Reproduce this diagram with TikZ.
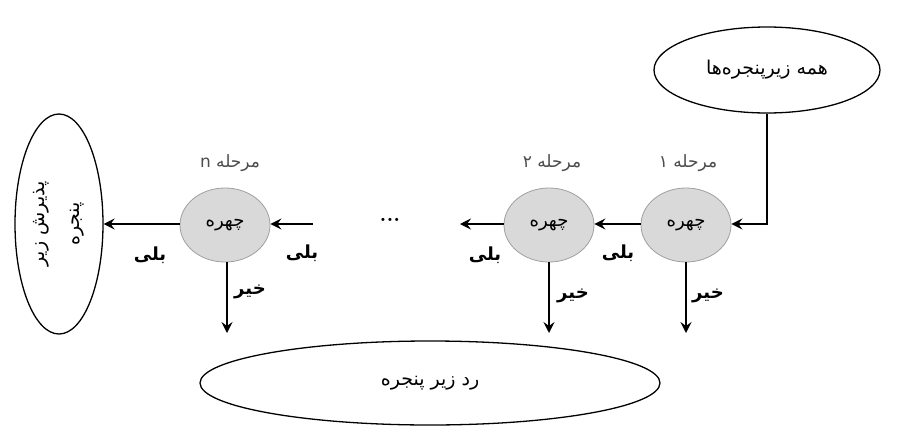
\documentclass[tikz,border=0pt]{standalone}
\usepackage{fontspec}
\usetikzlibrary{shapes.geometric,arrows.meta}
\newfontfamily\arabicfont[Script=Arabic]{DejaVu Sans}
\TeXXeTstate=1
\tikzset{
  bigell/.style={ellipse, draw=black, line width=1.3pt, inner sep=0pt, font=\arabicfont\fontsize{19}{22}\selectfont},
  face/.style={ellipse, draw=gray!75, line width=0.8pt, fill=gray!30, minimum width=90pt, minimum height=74pt, inner sep=0pt, font=\arabicfont\fontsize{18}{20}\selectfont},
  arr/.style={-{Stealth[length=11pt,width=11pt,inset=4pt]}, line width=1.5pt},
  stage/.style={font=\arabicfont\fontsize{17}{20}\selectfont, text=black!70},
  yn/.style={font=\arabicfont\bfseries\fontsize{18}{20}\selectfont},
}
\begin{document}
\begin{tikzpicture}[x=1pt,y=-1pt]
\useasboundingbox (0,0) rectangle (903,426);
% big ellipses
\node[bigell, minimum width=226pt, minimum height=86pt] (all) at (767,70) {\beginR همه زیرپنجره‌ها\endR};
\node[bigell, minimum width=460pt, minimum height=84pt] (rej) at (430,383) {\beginR رد زیر پنجره\endR};
\node[bigell, rotate=90, minimum width=220pt, minimum height=88pt, align=center, font=\arabicfont\fontsize{19}{35}\selectfont] (acc) at (59,224) {\beginR پذیرش زیر\endR\\\beginR پنجره\endR};
% face stages
\node[face] (c1) at (686,225) {\beginR چهره\endR};
\node[face] (c2) at (549,225) {\beginR چهره\endR};
\node[face] (cn) at (225,225) {\beginR چهره\endR};
\node[stage] (s1) at (688,163) {\beginR مرحله ۱\endR};
\node[stage] (s2) at (552,163) {\beginR مرحله ۲\endR};
\node[stage] (sn) at (230,163) {\beginR مرحله \beginL n\endL\endR};
\node[font=\bfseries\fontsize{22}{24}\selectfont] (dots) at (390,220) {...};
% free ends
\coordinate (e1) at (686,333);
\coordinate (e2) at (549,333);
\coordinate (en) at (227,333);
\coordinate (d2) at (460,224);
\coordinate (dn) at (313,224);
% connectors
\draw[arr] (all.south) |- (c1.east |- 0,224);
\draw[arr] (c1.west |- 0,224) -- (c2.east |- 0,224);
\draw[arr] (c2.west |- 0,224) -- (d2);
\draw[arr] (dn) -- (cn.east |- 0,224);
\draw[arr] (cn.west |- 0,224) -- (acc.south |- 0,224);
\draw[arr] (c1.south) -- (e1);
\draw[arr] (c2.south) -- (e2);
\draw[arr] (cn.south -| en) -- (en);
% yes / no labels
\node[yn] (y1) at (618,253) {\beginR بلی\endR};
\node[yn] (y2) at (485,255) {\beginR بلی\endR};
\node[yn] (y3) at (302,253) {\beginR بلی\endR};
\node[yn] (y4) at (150,255) {\beginR بلی\endR};
\node[yn] (n1) at (708,296) {\beginR خیر\endR};
\node[yn] (n2) at (573,296) {\beginR خیر\endR};
\node[yn] (n3) at (250,292) {\beginR خیر\endR};
\end{tikzpicture}
\end{document}
